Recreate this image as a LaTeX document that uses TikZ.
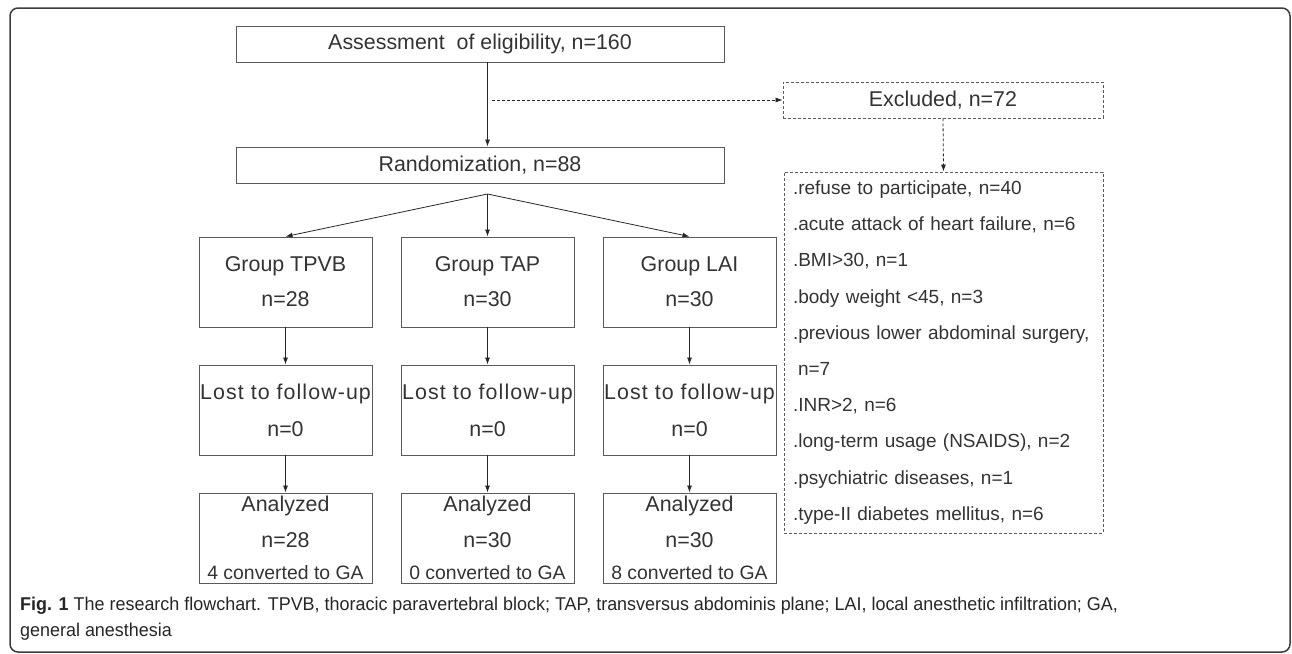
\documentclass[tikz,border=0pt]{standalone}
\usepackage{fontspec}
\setmainfont{Liberation Sans}
\newfontfamily\capfont[FakeStretch=0.97]{Liberation Sans}
\usetikzlibrary{arrows.meta}
\definecolor{boxline}{HTML}{5A5A5A}
\definecolor{txtgray}{HTML}{333333}
\definecolor{framegray}{HTML}{3C3C3C}

\tikzset{
  box/.style={draw=boxline, line width=0.9pt, text=txtgray, inner sep=0pt, align=center,
    font=\fontsize{21.4}{36}\selectfont},
  dashbox/.style={box, dash pattern=on 3pt off 2pt},
  groupbox/.style={box, minimum width=173pt, minimum height=90pt},
  flow/.style={->, draw=black!85, line width=0.8pt},
  dashflow/.style={flow, dash pattern=on 3pt off 2pt},
}
\newcommand{\lostline}{{\addfontfeature{LetterSpace=5}Lost to follow-up}}

\begin{document}
\begin{tikzpicture}[x=1pt, y=-1pt, >={Latex[length=7pt,width=5pt]}]

	\useasboundingbox (0,0) rectangle (1292,653);
	\draw[line width=1.5pt, color=framegray, rounded corners=8pt] (10,8) rectangle (1290,652);

	% top of the chart
	\node[box, minimum width=488pt, minimum height=36pt] (assess) at (480,44) {Assessment\ \ of eligibility, n=160};
	\node[box, minimum width=488pt, minimum height=36pt] (rand) at (480,165) {Randomization, n=88};
	\node[dashbox, minimum width=320pt, minimum height=36pt] (excl) at (943,100) {Excluded, n=72};

	% three arms
	\node[groupbox, font=\fontsize{21.4}{35}\selectfont] (tpvb) at (285.5,282) {Group TPVB\\n=28};
	\node[groupbox, font=\fontsize{21.4}{35}\selectfont] (tap) at (487.5,282) {Group TAP\\n=30};
	\node[groupbox, font=\fontsize{21.4}{35}\selectfont] (lai) at (689.5,282) {Group LAI\\n=30};

	\node[groupbox, font=\fontsize{21.4}{37}\selectfont] (losttpvb) at (285.5,410) {\lostline\\n=0};
	\node[groupbox, font=\fontsize{21.4}{37}\selectfont] (losttap) at (487.5,410) {\lostline\\n=0};
	\node[groupbox, font=\fontsize{21.4}{37}\selectfont] (lostlai) at (689.5,410) {\lostline\\n=0};

	\node[groupbox, font=\fontsize{21.4}{36}\selectfont] (antpvb) at (285.5,538) {Analyzed\\n=28\\[-4pt]{\fontsize{19.4}{24}\selectfont 4 converted to GA}};
	\node[groupbox, font=\fontsize{21.4}{36}\selectfont] (antap) at (487.5,538) {Analyzed\\n=30\\[-4pt]{\fontsize{19.4}{24}\selectfont 0 converted to GA}};
	\node[groupbox, font=\fontsize{21.4}{36}\selectfont] (anlai) at (689.5,538) {Analyzed\\n=30\\[-4pt]{\fontsize{19.4}{24}\selectfont 8 converted to GA}};

	% reasons for exclusion
	\node[dashbox, minimum width=319pt, minimum height=361pt, text width=301pt, inner xsep=9pt, align=left,
		font=\fontsize{19}{36.2}\selectfont] (reasons) at (943.5,352.5)
		{.refuse to participate, n=40\\
		.acute attack of heart failure, n=6\\
		.BMI>30, n=1\\
		.body weight <45, n=3\\
		.previous lower abdominal surgery,\\
		\hspace*{5pt}n=7\\
		.INR>2, n=6\\
		.long-term usage (NSAIDS), n=2\\
		.psychiatric diseases, n=1\\
		.type-II diabetes mellitus, n=6};

	\coordinate (split) at (487.5,194);

	\draw[flow] (assess.south -| tap.north) -- (rand.north -| tap.north);
	\draw[dashflow] ([xshift=4pt]tap.north |- excl.west) -- (excl.west);
	\draw[dashflow] (excl.south) -- (reasons.north);

	\draw[flow] (split) -- (tpvb.north);
	\draw[flow] (split) -- (tap.north);
	\draw[flow] (split) -- (lai.north);

	\draw[flow] (tpvb) -- (losttpvb);
	\draw[flow] (tap) -- (losttap);
	\draw[flow] (lai) -- (lostlai);
	\draw[flow] (losttpvb) -- (antpvb);
	\draw[flow] (losttap) -- (antap);
	\draw[flow] (lostlai) -- (anlai);

	% caption
	\node[anchor=base west, align=left, inner sep=0pt, text=black!85, font=\capfont\fontsize{18.5}{26}\selectfont] (caption) at (20,636)
		{{\bfseries Fig. 1} The research flowchart. TPVB, thoracic paravertebral block; TAP, transversus abdominis plane; LAI, local anesthetic infiltration; GA,\\
		general anesthesia};

\end{tikzpicture}
\end{document}
